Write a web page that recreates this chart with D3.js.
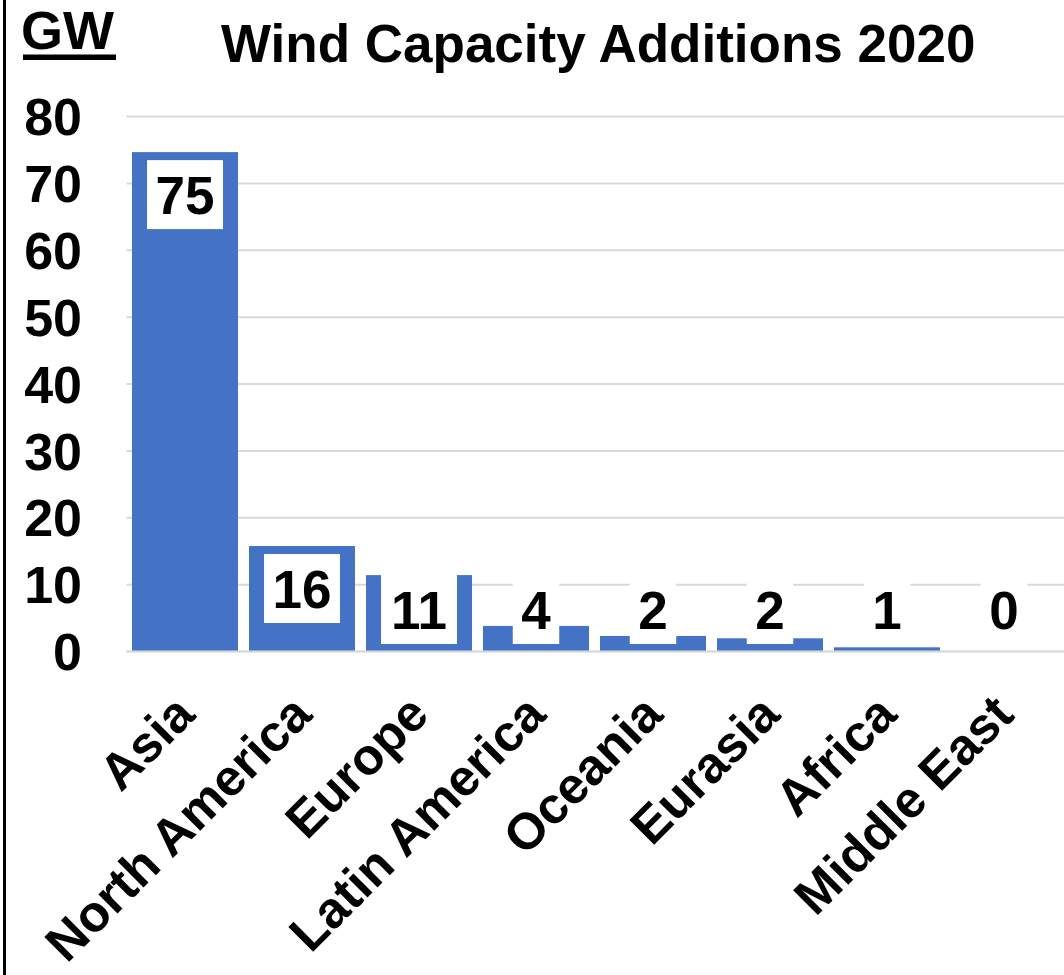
<!DOCTYPE html>
<html>
<head>
<meta charset="utf-8">
<script src="https://cdn.jsdelivr.net/npm/d3@7"></script>
<style>
  html, body { margin: 0; padding: 0; background: #fff; }
  svg { display: block; }
  text { font-family: "Liberation Sans", Arial, sans-serif; font-weight: bold; fill: #000; }
</style>
</head>
<body>
<svg id="chart" width="1064" height="975"></svg>
<script>
const categories = ["Asia", "North America", "Europe", "Latin America", "Oceania", "Eurasia", "Africa", "Middle East"];
const values = [74.6, 15.7, 11.35, 3.75, 2.25, 1.9, 0.55, 0];
const yTicks = [0, 10, 20, 30, 40, 50, 60, 70, 80];
const titleText = "Wind Capacity Additions 2020";
const unitText = "GW";

const W = 1064, H = 975;
const margin = { left: 126.5, right: 1.5, top: 116, bottom: 324 };
const svg = d3.select("#chart");

const x = d3.scaleBand()
  .domain(categories)
  .range([margin.left, W - margin.right])
  .paddingInner(0.094)
  .paddingOuter(0.047);

const y = d3.scaleLinear()
  .domain([0, 80])
  .range([H - margin.bottom, margin.top]);

// left frame line
svg.append("rect")
  .attr("x", 3).attr("y", 0).attr("width", 3).attr("height", H)
  .attr("fill", "#000");

// gridlines via axis
const grid = svg.append("g")
  .attr("transform", `translate(${margin.left},0)`)
  .call(d3.axisLeft(y).tickValues(yTicks).tickSize(-(W - margin.left)).tickFormat(""));
grid.select(".domain").remove();
grid.selectAll(".tick line").attr("stroke", "#d9d9d9").attr("stroke-width", 2);

// y tick labels
const yAxis = svg.append("g")
  .attr("transform", `translate(82,0)`)
  .call(d3.axisLeft(y).tickValues(yTicks).tickSize(0).tickPadding(0));
yAxis.select(".domain").remove();
yAxis.selectAll(".tick text")
  .attr("font-size", 52)
  .attr("font-family", "'Liberation Sans', Arial, sans-serif")
  .attr("font-weight", "bold")
  .attr("fill", "#000")
  .attr("dy", "0.36em");

// bars
svg.append("g").selectAll("rect")
  .data(categories)
  .join("rect")
  .attr("x", d => x(d))
  .attr("width", x.bandwidth())
  .attr("y", (d, i) => y(values[i]))
  .attr("height", (d, i) => y(0) - y(values[i]))
  .attr("fill", "#4472C4");

// x axis baseline
svg.append("line")
  .attr("x1", margin.left).attr("x2", W)
  .attr("y1", y(0) + 0.5).attr("y2", y(0) + 0.5)
  .attr("stroke", "#d9d9d9").attr("stroke-width", 2);

// data labels with white boxes
const fmt = d3.format(".0f");
const fontSize = 53;
const boxH = 69;
const labels = svg.append("g");
categories.forEach((c, i) => {
  const txt = fmt(values[i]);
  const cx = x(c) + x.bandwidth() / 2;
  const bw = txt.length * 0.556 * fontSize + 17;
  let top = y(values[i]) + 8;
  if (top + boxH > y(0) - 7) top = y(0) - 7 - boxH;
  labels.append("rect")
    .attr("x", cx - bw / 2).attr("y", top)
    .attr("width", bw).attr("height", boxH)
    .attr("fill", "#fff");
  labels.append("text")
    .attr("x", cx).attr("y", top + boxH / 2)
    .attr("dy", "0.36em")
    .attr("text-anchor", "middle")
    .attr("font-size", fontSize)
    .text(txt);
});

// x labels rotated
const xAxis = svg.append("g")
  .attr("transform", `translate(0,${y(0)})`)
  .call(d3.axisBottom(x).tickSize(0).tickPadding(0));
xAxis.select(".domain").remove();
xAxis.selectAll(".tick text")
  .attr("font-size", 51)
  .attr("font-family", "'Liberation Sans', Arial, sans-serif")
  .attr("font-weight", "bold")
  .attr("fill", "#000")
  .attr("text-anchor", "end")
  .attr("dy", 0)
  .attr("y", 0)
  .attr("transform", "translate(12,66) rotate(-45)");

// title
svg.append("text")
  .attr("x", 221).attr("y", 62)
  .attr("font-size", 53)
  .text(titleText);

// unit label with underline
svg.append("text")
  .attr("x", 21).attr("y", 49)
  .attr("font-size", 54)
  .text(unitText);
svg.append("rect")
  .attr("x", 23).attr("y", 54.5).attr("width", 93).attr("height", 5.5)
  .attr("fill", "#000");
</script>
</body>
</html>
